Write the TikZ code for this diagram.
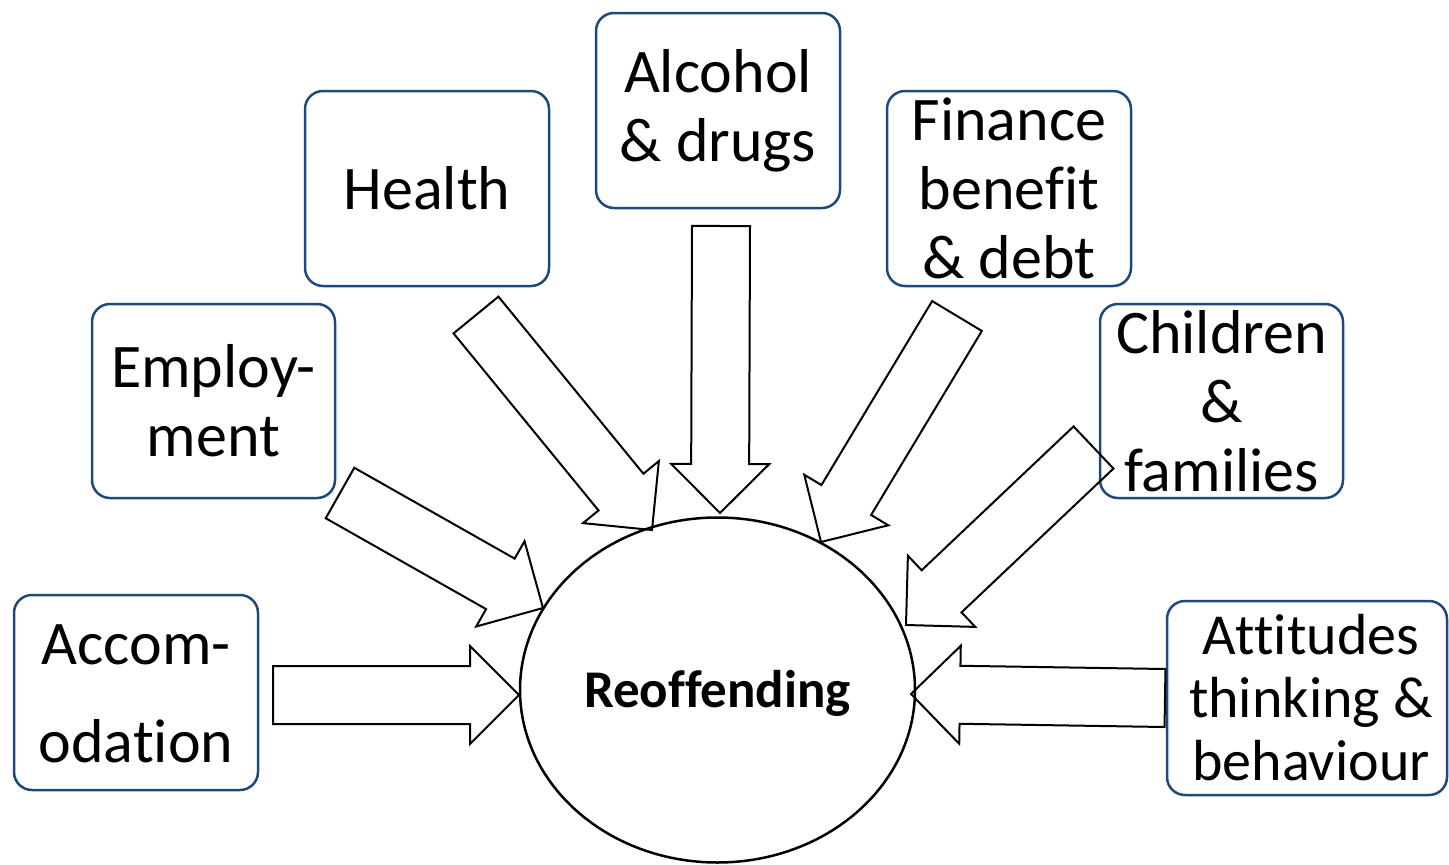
\documentclass[tikz,border=0pt]{standalone}
\usepackage{fontspec}
\setmainfont{Carlito}[Ligatures={NoCommon,TeX}]
\usetikzlibrary{calc,shapes.geometric}
\definecolor{boxblue}{RGB}{31,73,125}
\tikzset{
  factor/.style={draw=boxblue, line width=2.5pt, rounded corners=18pt, rectangle,
    minimum width=244pt, minimum height=195pt, align=center, inner sep=0pt,
    font=\fontsize{62}{69}\selectfont},
  blockarrow/.style={draw=black, line width=2pt, line join=miter},
  centre/.style={draw=black, line width=2.5pt, ellipse, minimum width=395pt,
    minimum height=345pt, inner sep=0pt}
}
% block arrow from coordinate #1 (tail) to coordinate #2 (tip)
\newcommand\blockarr[2]{%
  \coordinate (hb) at ($(#2)!49pt!(#1)$);
  \draw[blockarrow]
    ($(#1)!29pt!90:(#2)$) -- ($(hb)!29pt!90:(#2)$) -- ($(hb)!49pt!90:(#2)$)
    -- (#2) -- ($(hb)!49pt!-90:(#2)$) -- ($(hb)!29pt!-90:(#2)$)
    -- ($(#1)!29pt!-90:(#2)$) -- cycle;
}
\begin{document}
\begin{tikzpicture}[x=1pt,y=-1pt]
\useasboundingbox (0,0) rectangle (1449,865);
% boxes
\node[factor] (acc) at (136,692.5) {};
\node[font=\fontsize{62}{69}\selectfont, align=center, inner sep=0pt] (acct) at (136,694) {Accom-\\[29pt]odation};
\node[factor, minimum width=243pt, minimum height=194pt] (emp) at (213.5,401) {Employ-\\ment};
\node[factor] (hea) at (427,188.5) {Health};
\node[factor] (alc) at (718,110.5) {Alcohol\\\& drugs};
\node[factor] (fin) at (1009,188.5) {Finance\\bene\kern0pt fit\\\& debt};
\node[factor, minimum width=243pt, minimum height=194pt] (chi) at (1221.5,401) {Children\\\&\\families};
\node[factor, minimum width=280pt, minimum height=194pt] (att) at (1307,698) {};
\node[font=\fontsize{58}{63}\selectfont, align=center] (attt) at (1311,698) {At\kern0pt titudes\\thinking \&\\behaviour};
% centre
\node[centre] (reo) at (717.5,690) {};
\node[font=\fontsize{53}{60}\selectfont\bfseries] (reot) at (717.5,693) {Reof\kern0pt fending};
% arrow ends
\coordinate (accT) at (273,695);   \coordinate (accP) at (519,695);
\coordinate (empT) at (340,493);   \coordinate (empP) at (543,608);
\coordinate (heaT) at (476,315);   \coordinate (heaP) at (652,530);
\coordinate (alcT) at (721,226);   \coordinate (alcP) at (720,513);
\coordinate (finT) at (957,316);   \coordinate (finP) at (821,542);
\coordinate (chiT) at (1093.5,447.5); \coordinate (chiP) at (906,625);
\coordinate (attT) at (1165,698);  \coordinate (attP) at (911,694);
\blockarr{accT}{accP}
\blockarr{empT}{empP}
\blockarr{heaT}{heaP}
\blockarr{alcT}{alcP}
\blockarr{finT}{finP}
\blockarr{chiT}{chiP}
\blockarr{attT}{attP}
\end{tikzpicture}
\end{document}
